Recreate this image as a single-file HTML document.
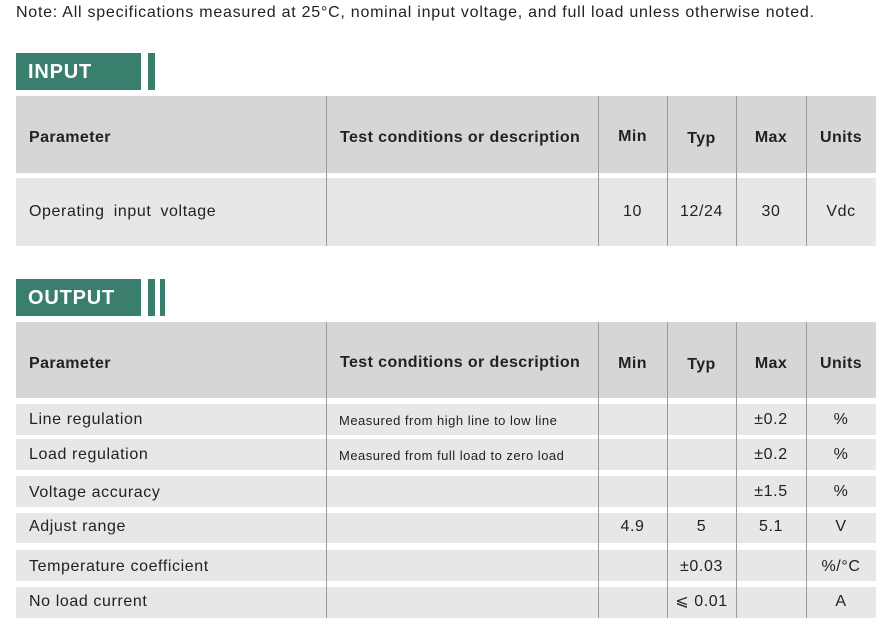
<!DOCTYPE html>
<html><head><meta charset="utf-8">
<style>
body{margin:0;width:885px;height:634px;background:#fff;position:relative;overflow:hidden;font-family:"Liberation Sans",sans-serif;color:#222}
div{position:absolute;box-sizing:border-box}
.note{left:16px;top:4px;font-size:16px;white-space:nowrap;letter-spacing:0.75px}
.tag{left:16px;width:125px;height:37px;background:#3a7f6e;color:#fff;font-weight:bold;font-size:20px;line-height:39px;padding-left:12px;letter-spacing:0.8px}
.bar{width:7px;height:37px;background:#3a7f6e}
.hdr{left:16px;width:860px;background:#d5d6d8}
.row{left:16px;width:860px;background:#e6e7e8}
.vl{width:1px;background:#9a9a9a}
.c{font-size:16px;white-space:nowrap;text-align:center;letter-spacing:0.6px}
.b{font-weight:bold;letter-spacing:0.4px}
.l{text-align:left}
.s{font-size:13px;letter-spacing:0.5px}
</style></head><body>
<div class="note">Note: All specifications measured at 25°C, nominal input voltage, and full load unless otherwise noted.</div>

<div class="tag" style="top:53px">INPUT</div>
<div class="bar" style="left:148px;top:53px"></div>

<div class="hdr" style="top:96px;height:77px"></div>
<div class="row" style="top:178px;height:68px"></div>
<div class="vl" style="left:326px;top:96px;height:150px"></div>
<div class="vl" style="left:598px;top:96px;height:150px"></div>
<div class="vl" style="left:667px;top:96px;height:150px"></div>
<div class="vl" style="left:736px;top:96px;height:150px"></div>
<div class="vl" style="left:806px;top:96px;height:150px"></div>

<div class="c b l" style="left:29px;top:129px">Parameter</div>
<div class="c b l" style="left:340px;top:129px">Test conditions or description</div>
<div class="c b" style="left:598px;width:69px;top:128px">Min</div>
<div class="c b" style="left:667px;width:69px;top:130px">Typ</div>
<div class="c b" style="left:736px;width:70px;top:129px">Max</div>
<div class="c b" style="left:806px;width:70px;top:129px">Units</div>

<div class="c l" style="left:29px;top:203px;word-spacing:4px">Operating input voltage</div>
<div class="c" style="left:598px;width:69px;top:203px">10</div>
<div class="c" style="left:667px;width:69px;top:203px">12/24</div>
<div class="c" style="left:736px;width:70px;top:203px">30</div>
<div class="c" style="left:806px;width:70px;top:203px">Vdc</div>

<div class="tag" style="top:279px">OUTPUT</div>
<div class="bar" style="left:148px;top:279px"></div>
<div class="bar" style="left:160px;top:279px;width:5px"></div>

<div class="hdr" style="top:322px;height:76px"></div>
<div class="row" style="top:404px;height:31px"></div>
<div class="row" style="top:439px;height:31px"></div>
<div class="row" style="top:476px;height:31px"></div>
<div class="row" style="top:513px;height:30px"></div>
<div class="row" style="top:550px;height:31px"></div>
<div class="row" style="top:587px;height:31px"></div>
<div class="vl" style="left:326px;top:322px;height:296px"></div>
<div class="vl" style="left:598px;top:322px;height:296px"></div>
<div class="vl" style="left:667px;top:322px;height:296px"></div>
<div class="vl" style="left:736px;top:322px;height:296px"></div>
<div class="vl" style="left:806px;top:322px;height:296px"></div>

<div class="c b l" style="left:29px;top:355px">Parameter</div>
<div class="c b l" style="left:340px;top:354px">Test conditions or description</div>
<div class="c b" style="left:598px;width:69px;top:355px">Min</div>
<div class="c b" style="left:667px;width:69px;top:356px">Typ</div>
<div class="c b" style="left:736px;width:70px;top:355px">Max</div>
<div class="c b" style="left:806px;width:70px;top:355px">Units</div>

<div class="c l" style="left:29px;top:411px">Line regulation</div>
<div class="c l s" style="left:339px;top:413px">Measured from high line to low line</div>
<div class="c" style="left:736px;width:70px;top:411px">±0.2</div>
<div class="c" style="left:806px;width:70px;top:411px">%</div>

<div class="c l" style="left:29px;top:446px">Load regulation</div>
<div class="c l s" style="left:339px;top:448px">Measured from full load to zero load</div>
<div class="c" style="left:736px;width:70px;top:446px">±0.2</div>
<div class="c" style="left:806px;width:70px;top:446px">%</div>

<div class="c l" style="left:29px;top:484px">Voltage accuracy</div>
<div class="c" style="left:736px;width:70px;top:483px">±1.5</div>
<div class="c" style="left:806px;width:70px;top:483px">%</div>

<div class="c l" style="left:29px;top:518px">Adjust range</div>
<div class="c" style="left:598px;width:69px;top:518px">4.9</div>
<div class="c" style="left:667px;width:69px;top:518px">5</div>
<div class="c" style="left:736px;width:70px;top:518px">5.1</div>
<div class="c" style="left:806px;width:70px;top:518px">V</div>

<div class="c l" style="left:29px;top:558px">Temperature coefficient</div>
<div class="c" style="left:667px;width:69px;top:558px">±0.03</div>
<div class="c" style="left:806px;width:70px;top:558px">%/°C</div>

<div class="c l" style="left:29px;top:593px">No load current</div>
<div class="c" style="left:667px;width:69px;top:591px">⩽ 0.01</div>
<div class="c" style="left:806px;width:70px;top:593px">A</div>
</body></html>
